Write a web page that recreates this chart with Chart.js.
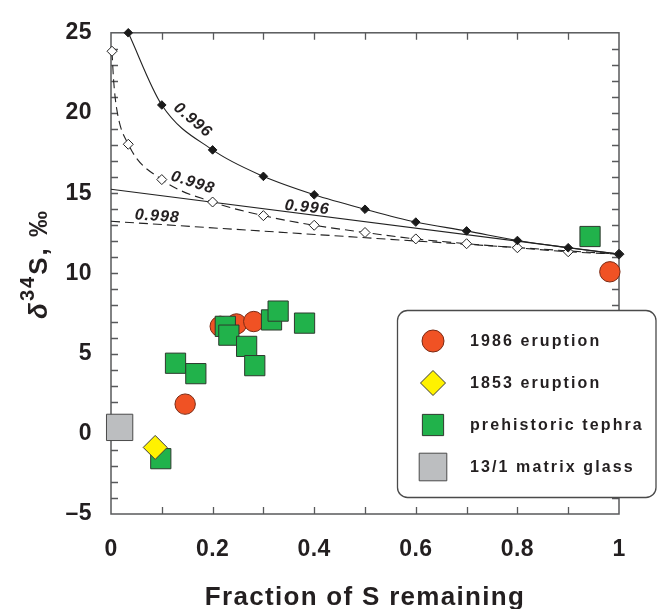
<!DOCTYPE html>
<html><head><meta charset="utf-8">
<script src="https://cdn.jsdelivr.net/npm/chart.js@4"></script>
<style>html,body{margin:0;padding:0;background:#fff}#wrap{width:657px;height:609px;position:relative}</style>
</head><body><div id="wrap"><canvas id="c" width="657" height="609"></canvas></div>
<script>
// ---------- data ----------
const seriesNames = ['1986 eruption', '1853 eruption', 'prehistoric tephra', '13/1 matrix glass'];

const eruption1986X = [0.146, 0.215, 0.247, 0.281, 0.982];
const eruption1986Y = [1.85, 6.7, 6.85, 7.0, 10.1];

const eruption1853X = [0.087];
const eruption1853Y = [-0.85];

const tephraX = [0.098, 0.127, 0.167, 0.225, 0.232, 0.267, 0.283, 0.316, 0.329, 0.381, 0.943];
const tephraY = [-1.55, 4.4, 3.75, 6.7, 6.15, 5.45, 4.25, 7.1, 7.65, 6.9, 12.3];

const glassX = [0.017];
const glassY = [0.4];

// Rayleigh (open system) curves: diamond markers
const rayleigh996X = [0.034, 0.1, 0.2, 0.3, 0.4, 0.5, 0.6, 0.7, 0.8, 0.9, 1.0];
const rayleigh996Y = [25.0, 20.5, 17.7, 16.05, 14.9, 14.0, 13.2, 12.65, 12.05, 11.6, 11.2];
const rayleigh998X = [0.002, 0.034, 0.1, 0.2, 0.3, 0.4, 0.5, 0.6, 0.7, 0.8, 0.9, 1.0];
const rayleigh998Y = [23.85, 18.05, 15.85, 14.45, 13.6, 13.0, 12.55, 12.15, 11.85, 11.6, 11.35, 11.2];
// extra points read along the steep start of the dashed curve (no marker)
const rayleigh998LineX = [0.002, 0.005, 0.011, 0.034, 0.1, 0.2, 0.3, 0.4, 0.5, 0.6, 0.7, 0.8, 0.9, 1.0];
const rayleigh998LineY = [23.85, 22.1, 20.3, 18.05, 15.85, 14.45, 13.6, 13.0, 12.55, 12.15, 11.85, 11.6, 11.35, 11.2];

// closed system (batch) lines
const batch996X = [0, 1];
const batch996Y = [15.25, 11.2];
const batch998X = [0, 1];
const batch998Y = [13.25, 11.2];

// curve labels
const curveLabelText = ['0.996', '0.998', '0.996', '0.998'];
const curveLabelX = [0.161, 0.161, 0.386, 0.091];
const curveLabelY = [19.55, 15.65, 14.1, 13.55];
const curveLabelAngle = [40, 18, 6, 4];

// tick labels
const xTickLabels = ['0', '0.2', '0.4', '0.6', '0.8', '1'];
const yTickLabels = ['\u20135', '0', '5', '10', '15', '20', '25'];

// ---------- helpers ----------
const pts = (xs, ys) => xs.map((x, i) => ({x: x, y: ys[i]}));
const FONT = '"Liberation Sans", Arial, Helvetica, sans-serif';
const INK = '#231f20';

const datasets = [
  {label: seriesNames[1], data: pts(eruption1853X, eruption1853Y), order: 0, pointStyle: 'rectRot', pointRadius: 12,
   backgroundColor: '#FFF200', borderColor: '#3a3a3a', borderWidth: 1, showLine: false, clip: false, legendIdx: 1},
  {label: seriesNames[2], data: pts(tephraX, tephraY), order: 1, pointStyle: 'rect', pointRadius: 14.3,
   backgroundColor: '#21B24B', borderColor: '#2e3a2e', borderWidth: 1, showLine: false, clip: false, legendIdx: 2},
  {label: seriesNames[0], data: pts(eruption1986X, eruption1986Y), order: 2, pointStyle: 'circle', pointRadius: 10.2,
   backgroundColor: '#F05224', borderColor: '#7a2a14', borderWidth: 1, showLine: false, clip: false, legendIdx: 0},
  {label: seriesNames[3], data: pts(glassX, glassY), order: 3, pointStyle: 'rect', pointRadius: 18.6,
   backgroundColor: '#BCBEC0', borderColor: '#4a4a4a', borderWidth: 1, showLine: false, clip: false, legendIdx: 3},
  {label: 'r996m', data: pts(rayleigh996X, rayleigh996Y), order: 4, pointStyle: 'rectRot', pointRadius: 4.3,
   backgroundColor: '#1a1a1a', borderColor: '#1a1a1a', borderWidth: 1, showLine: false, clip: false},
  {label: 'r998m', data: pts(rayleigh998X, rayleigh998Y), order: 5, pointStyle: 'rectRot', pointRadius: 5,
   backgroundColor: '#ffffff', borderColor: '#222', borderWidth: 1, showLine: false, clip: false},
  {label: 'r996l', data: pts(rayleigh996X, rayleigh996Y), order: 6, showLine: true, pointRadius: 0,
   borderColor: '#222', borderWidth: 1.1, cubicInterpolationMode: 'monotone', clip: false},
  {label: 'r998l', data: pts(rayleigh998LineX, rayleigh998LineY), order: 7, showLine: true, pointRadius: 0,
   borderColor: '#222', borderWidth: 1.1, borderDash: [9, 5], cubicInterpolationMode: 'monotone', clip: false},
  {label: 'b996', data: pts(batch996X, batch996Y), order: 8, showLine: true, pointRadius: 0,
   borderColor: '#222', borderWidth: 1.1, clip: false},
  {label: 'b998', data: pts(batch998X, batch998Y), order: 9, showLine: true, pointRadius: 0,
   borderColor: '#222', borderWidth: 1.1, borderDash: [9, 5], clip: false}
];

// frame with inward ticks on all four sides
const framePlugin = {
  id: 'frame',
  beforeDraw(chart) { chart.ctx.letterSpacing = '0.4px'; },
  beforeDatasetsDraw(chart) {
    const ctx = chart.ctx, a = chart.chartArea, xs = chart.scales.x, ys = chart.scales.y;
    ctx.save();
    ctx.strokeStyle = '#58595b';
    ctx.lineWidth = 1.5;
    ctx.strokeRect(a.left, a.top, a.right - a.left, a.bottom - a.top);
    ctx.lineWidth = 1.3;
    ctx.beginPath();
    const tl = 7;
    for (let k = 1; k < 10; k++) {
      const px = Math.round(xs.getPixelForValue(k / 10)) + 0.5;
      ctx.moveTo(px, a.bottom); ctx.lineTo(px, a.bottom - tl);
      ctx.moveTo(px, a.top); ctx.lineTo(px, a.top + tl);
    }
    for (let v = ys.min + 1; v < ys.max; v++) {
      const py = Math.round(ys.getPixelForValue(v)) + 0.5;
      ctx.moveTo(a.left, py); ctx.lineTo(a.left + tl, py);
      ctx.moveTo(a.right, py); ctx.lineTo(a.right - tl, py);
    }
    ctx.stroke();
    ctx.restore();
  },
  afterDatasetsDraw(chart) {
    const ctx = chart.ctx, xs = chart.scales.x, ys = chart.scales.y;
    ctx.save();
    ctx.fillStyle = INK;
    ctx.font = 'italic bold 16px ' + FONT;
    ctx.letterSpacing = '1px';
    ctx.textAlign = 'center';
    ctx.textBaseline = 'middle';
    curveLabelText.forEach((t, i) => {
      ctx.save();
      ctx.translate(xs.getPixelForValue(curveLabelX[i]), ys.getPixelForValue(curveLabelY[i]));
      ctx.rotate(curveLabelAngle[i] * Math.PI / 180);
      ctx.fillText(t, 0, 0);
      ctx.restore();
    });
    ctx.restore();
  },
  afterDraw(chart) {
    const ctx = chart.ctx, a = chart.chartArea;
    // axis titles
    ctx.save();
    ctx.fillStyle = INK;
    ctx.font = 'bold 26px ' + FONT;
    ctx.letterSpacing = '1.3px';
    ctx.textAlign = 'center';
    ctx.textBaseline = 'alphabetic';
    ctx.fillText('Fraction of S remaining', (a.left + a.right) / 2, 605);
    ctx.restore();

    ctx.save();
    ctx.fillStyle = INK;
    ctx.letterSpacing = '2px';
    ctx.textBaseline = 'alphabetic';
    ctx.textAlign = 'left';
    const parts = [
      {t: '\u03B4', f: 'italic bold 26px ' + FONT, dy: 0},
      {t: '34', f: 'bold 20px ' + FONT, dy: -13},
      {t: 'S, \u2030', f: 'bold 26px ' + FONT, dy: 0}
    ];
    let total = 0;
    parts.forEach(p => { ctx.font = p.f; p.w = ctx.measureText(p.t).width; total += p.w; });
    ctx.translate(47, 264);
    ctx.rotate(-Math.PI / 2);
    let x = -total / 2;
    parts.forEach(p => { ctx.font = p.f; ctx.fillText(p.t, x, p.dy); x += p.w; });
    ctx.restore();

    // legend box
    ctx.save();
    const x0 = 397.5, y0 = 310.5, x1 = 656, y1 = 497.5;
    ctx.beginPath();
    ctx.roundRect(x0, y0, x1 - x0, y1 - y0, 10);
    ctx.fillStyle = '#ffffff';
    ctx.fill();
    ctx.lineWidth = 1.3;
    ctx.strokeStyle = '#4a4a4a';
    ctx.stroke();
    const items = chart.data.datasets.filter(d => d.legendIdx !== undefined)
      .sort((p, q) => p.legendIdx - q.legendIdx);
    items.forEach((d, i) => {
      const cy = 341 + i * 42;
      ctx.fillStyle = d.backgroundColor;
      ctx.strokeStyle = d.borderColor;
      ctx.lineWidth = d.borderWidth;
      const r = d.pointStyle === 'circle' ? 11 : d.pointStyle === 'rectRot' ? 12.5 : d.pointRadius * 1.05;
      Chart.helpers.drawPoint(ctx, {pointStyle: d.pointStyle, radius: r, borderWidth: d.borderWidth, rotation: 0}, 433, cy);
      ctx.fillStyle = INK;
      ctx.font = 'bold 16px ' + FONT;
      ctx.letterSpacing = '2.1px';
      ctx.textAlign = 'left';
      ctx.textBaseline = 'middle';
      ctx.fillText(d.label, 470, cy + 1);
    });
    ctx.restore();
  }
};

new Chart(document.getElementById('c'), {
  type: 'scatter',
  data: {datasets: datasets},
  options: {
    responsive: false,
    animation: false,
    devicePixelRatio: 1,
    layout: {padding: {left: 0, right: 38, top: 24, bottom: 0}},
    plugins: {legend: {display: false}, tooltip: {enabled: false}},
    scales: {
      x: {
        type: 'linear', min: 0, max: 1,
        grid: {display: false, drawTicks: false},
        border: {display: false},
        ticks: {stepSize: 0.2, padding: 22, color: INK, font: {family: FONT, weight: 'bold', size: 23},
                callback: (v, i) => xTickLabels[i]},
        afterFit: s => { s.height = 95; }
      },
      y: {
        type: 'linear', min: -5, max: 25,
        grid: {display: false, drawTicks: false},
        border: {display: false},
        ticks: {stepSize: 5, padding: 19, color: INK, font: {family: FONT, weight: 'bold', size: 23},
                callback: (v, i) => yTickLabels[i]},
        afterFit: s => { s.width = 111; }
      }
    }
  },
  plugins: [framePlugin]
});
</script></body></html>
